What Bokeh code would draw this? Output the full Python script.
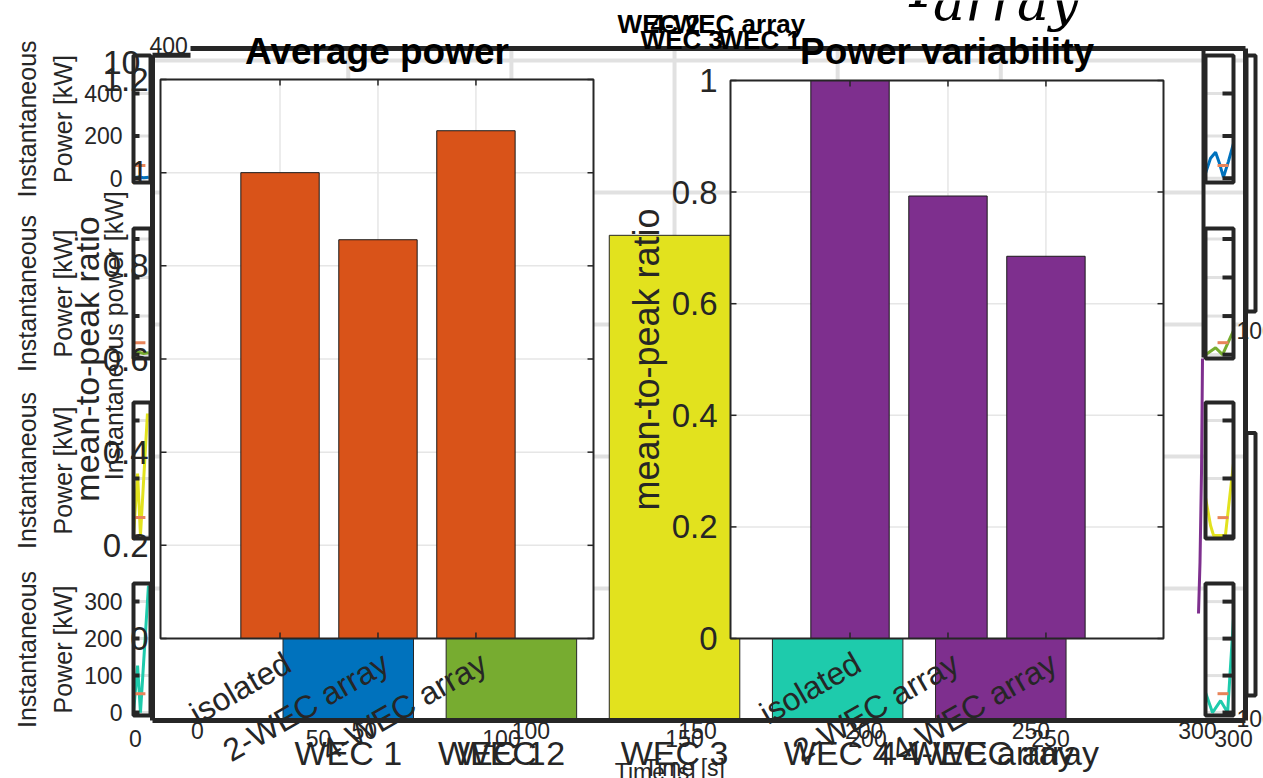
import numpy as np
from bokeh.plotting import figure
from bokeh.models import Range1d
from bokeh.core.properties import value
from bokeh.embed import file_html
from bokeh.resources import INLINE

# ---------------- data ----------------
avg_labels = ["isolated", "2-WEC array", "4-WEC array"]
avg_power = [1.0, 0.856, 1.09]
avg_ticks = [0, 0.2, 0.4, 0.6, 0.8, 1.0, 1.2]
avg_tick_labels = ["0", "0.2", "0.4", "0.6", "0.8", "1", "1.2"]

var_labels = ["isolated", "2-WEC array", "4-WEC array"]
mean_to_peak = [1.0, 0.793, 0.685]
var_ticks = [0, 0.2, 0.4, 0.6, 0.8, 1.0]
var_tick_labels = ["0", "0.2", "0.4", "0.6", "0.8", "1"]

wec_labels = ["WEC 1", "WEC 2", "WEC 3", "WEC 4", "4-WEC array"]
wec_ratio = [0.86, 0.83, 0.735, 0.80, 0.79]
wec_colors = ["#0072BD", "#77AC30", "#E2E21E", "#1ECBAC", "#7E2F8E"]
bg_ticks = [0.2, 0.4, 0.6, 0.8, 1.0]

time_ticks = [0, 50, 100, 150, 200, 250, 300]
time_tick_labels = ["0", "50", "100", "150", "200", "250", "300"]

# instantaneous power snippets (kW) in the small side panels
row_colors = ["#0072BD", "#77AC30", "#E2E21E", "#1ECBAC"]
row_ticks = [[0, 200, 400], [0, 100, 200, 300], [0, 200, 400], [0, 100, 200, 300]]
row_mean = [60, 31, 65, 51]

left_t = [[0, 3, 6, 9], [0, 3, 6, 9], [0, 2.4, 4.1, 8.2], [0, 2.4, 4.1, 8.8]]
left_p = [[3, 6, 2, 5], [4, 6, 3, 5], [0, 217, 3, 424], [0, 127, 0, 343]]

right_t = [[0, 1.8, 3.6, 5.0, 6.4, 8.2, 10], [0, 3.6, 6.1, 10],
           [0, 1.8, 2.9, 7.1, 10], [0, 2.5, 5.4, 7.9, 10]]
right_p = [[24, 95, 123, 70, 5, 80, 165], [0, 18, 0, 62],
           [134, 38, 3, 3, 252], [54, 0, 32, 0, 254]]

purple_t = [6.0, 5.0, 3.5, 2.0]
purple_p = [1.0, 0.55, 0.2, 0.0]

# ---------------- figure ----------------
FX0, FX1, FY0, FY1 = 0, 1263, 0, 778
p = figure(width=FX1 - FX0, height=FY1 - FY0,
           x_range=Range1d(FX0, FX1), y_range=Range1d(FY1, FY0),
           x_axis_location=None, y_axis_location=None,
           toolbar_location=None, output_backend="svg",
           min_border=0, outline_line_color=None)
p.grid.visible = False

FONT = value("Liberation Sans")
DARK = "#262626"
GRIDC = "#e1e1e1"

xr, yr = {}, {}


def panel(name, px, py, xlim, ylim):
    x0, x1 = px
    ytop, ybot = py
    sx = (xlim[1] - xlim[0]) / (x1 - x0)
    sy = (ylim[1] - ylim[0]) / (ybot - ytop)
    xr[name] = Range1d(xlim[0] - sx * (x0 - FX0), xlim[1] + sx * (FX1 - x1))
    yr[name] = Range1d(ylim[0] - sy * (FY1 - ybot), ylim[1] + sy * (ytop - FY0))
    return dict(x_range_name=name, y_range_name=name)


def txt(kw, x, y, text, size, color=DARK, style="normal", **extra):
    p.text(x=x, y=y, text=text, text_font=FONT, text_font_size=size,
           text_color=color, text_font_style=style, **kw, **extra)


# ---------- background bar chart ----------
BGX = (-0.2, 6.5)
BGY = (0, 1.018)
bg = panel("bg", (152, 1245), (48, 720), BGX, BGY)
bg_x = list(range(1, len(wec_labels) + 1))
p.segment(x0=[BGX[0]] * len(bg_ticks), x1=[BGX[1]] * len(bg_ticks), y0=bg_ticks, y1=bg_ticks,
          line_color=GRIDC, line_width=4, **bg)
p.segment(x0=bg_x, x1=bg_x, y0=[BGY[0]] * 5, y1=[BGY[1]] * 5, line_color=GRIDC, line_width=4, **bg)
p.vbar(x=bg_x, top=wec_ratio, bottom=0, width=0.8, fill_color=wec_colors,
       line_color=DARK, line_width=1, **bg)
# frame: left, bottom, right, top (top starts a little right of the left edge)
p.segment(x0=[BGX[0], BGX[0], BGX[1], 0.033], x1=[BGX[0], BGX[1], BGX[1], BGX[1]],
          y0=[BGY[0], BGY[0], BGY[0], BGY[1]], y1=[1.0076, BGY[0], BGY[1], BGY[1]],
          line_color=DARK, line_width=5, **bg)
p.segment(x0=[BGX[0]], x1=[0.033], y0=[1.0076], y1=[1.0076], line_color=DARK, line_width=5, **bg)
txt(bg, bg_x, [0] * 5, wec_labels, "34px", text_align="center", text_baseline="top", y_offset=13)
txt(bg, [1.88, 4.85], [0, 0], ["WEC 1", "4-WEC array"], "34px", text_align="center",
    text_baseline="top", y_offset=13)

# two overlapping time axes
axA = panel("axA", (135, 1233), (48, 720), (0, 300), BGY)
axB = panel("axB", (197, 1197), (48, 720), (0, 300), BGY)
txt(dict(x_range_name="axA", y_range_name="bg"), time_ticks, [0] * 7, time_tick_labels, "23px",
    text_align="center", text_baseline="middle", y_offset=18)
txt(dict(x_range_name="axB", y_range_name="bg"), time_ticks, [0] * 7, time_tick_labels, "23px",
    text_align="center", text_baseline="middle", y_offset=10)
txt(dict(x_range_name="axA", y_range_name="bg"), [150, 142], [0, 0], ["Time [s]", "Time [s]"], "23px",
    text_align="center", text_baseline="top", y_offset=[34, 38])

# ---------- side mini panels ----------
rows_py = [(55, 182), (228, 358), (402, 538), (583, 715)]
rows_ylim = [(-20, 580), (-10, 327), (-7, 462), (-8, 349)]
for i in range(4):
    for side, px in (("L", (133, 150)), ("R", (1205, 1233))):
        nm = f"m{side}{i}"
        kw = panel(nm, px, rows_py[i], (0, 10), rows_ylim[i])
        yl = rows_ylim[i]
        tk = row_ticks[i]
        p.quad(left=[0], right=[10], bottom=[yl[0]], top=[yl[1]], fill_color="white",
               line_color=None, **kw)
        p.segment(x0=[0] * len(tk), x1=[10] * len(tk), y0=tk, y1=tk, line_color=GRIDC,
                  line_width=3, **kw)
        if side == "L":
            p.line(left_t[i], left_p[i], line_color=row_colors[i], line_width=3, **kw)
            p.segment(x0=[0], x1=[7], y0=[row_mean[i]], y1=[row_mean[i]],
                      line_color="#E8845A", line_width=3, **kw)
            p.ray(x=[0] * len(tk), y=tk, length=6, length_units="screen", angle=0,
                  line_color=DARK, line_width=4, **kw)
            if i in (0, 3):
                txt(kw, [0] * len(tk), tk, [str(v) for v in tk], "23px",
                    text_align="right", text_baseline="middle", x_offset=-11)
        else:
            p.line(right_t[i], right_p[i], line_color=row_colors[i], line_width=3, **kw)
            p.segment(x0=[4.3], x1=[8.2], y0=[row_mean[i]], y1=[row_mean[i]],
                      line_color="#E8845A", line_width=3, **kw)
            p.ray(x=[10] * len(tk), y=tk, length=11, length_units="screen", angle=np.pi,
                  line_color=DARK, line_width=4, **kw)
        p.quad(left=[0], right=[10], bottom=[yl[0]], top=[yl[1]], fill_color=None,
               line_color=DARK, line_width=4, **kw)
        mid = (yl[0] + yl[1]) / 2
        if side == "L":
            txt(kw, [0, 0], [mid, mid], ["Instantaneous", "Power [kW]"], "25px",
                text_align="center", text_baseline="middle", angle=np.pi / 2,
                x_offset=[-107, -71])

# right column frame and tall purple trace
rc = panel("rc", (1203, 1245), (48, 720), (0, 10), (0, 1))
p.segment(x0=[0], x1=[0], y0=[0.54], y1=[1], line_color=DARK, line_width=4, **rc)
txt(rc, [10, 10], [0.58, 0.0], ["100", "100"], "23px", text_align="left", text_baseline="middle",
    x_offset=-9, y_offset=[0, -2])
pur = panel("pur", (1196, 1206), (358, 613), (0, 10), (0, 1))
p.line(purple_t, purple_p, line_color="#7E2F8E", line_width=3, **pur)
tc = panel("tc", (1246, 1255), (55, 695), (0, 10), (0, 1))
p.quad(left=[0, 0], right=[10, 10], bottom=[0.6, 0], top=[1, 0.41], fill_color="white",
       line_color=DARK, line_width=4, **tc)

# ---------- main panel: Average power ----------
CX = (-0.22, 4.2)
cat_x = [1, 2, 3]
L = panel("L", (160, 593), (79, 638), CX, (0, 1.2))
p.quad(left=[CX[0]], right=[CX[1]], bottom=[0], top=[1.2], fill_color="white", line_color=None, **L)
p.segment(x0=[CX[0]] * 6, x1=[CX[1]] * 6, y0=avg_ticks[1:], y1=avg_ticks[1:],
          line_color="#e6e6e6", line_width=1.5, **L)
p.segment(x0=cat_x, x1=cat_x, y0=[0] * 3, y1=[1.2] * 3, line_color="#e6e6e6", line_width=1.5, **L)
p.vbar(x=cat_x, top=avg_power, bottom=0, width=0.8, fill_color="#D95319",
       line_color="#1a1a1a", line_width=1, **L)
p.quad(left=[CX[0]], right=[CX[1]], bottom=[0], top=[1.2], fill_color=None,
       line_color=DARK, line_width=2, **L)
p.ray(x=[CX[0]] * 7, y=avg_ticks, length=6, length_units="screen", angle=0, line_color=DARK, line_width=1.5, **L)
p.ray(x=[CX[1]] * 7, y=avg_ticks, length=6, length_units="screen", angle=np.pi, line_color=DARK, line_width=1.5, **L)
p.ray(x=cat_x, y=[0] * 3, length=6, length_units="screen", angle=np.pi / 2, line_color=DARK, line_width=1.5, **L)
p.ray(x=cat_x, y=[1.2] * 3, length=6, length_units="screen", angle=-np.pi / 2, line_color=DARK, line_width=1.5, **L)
txt(L, [CX[0]] * 7, avg_ticks, avg_tick_labels, "33px", text_align="right",
    text_baseline="middle", x_offset=-12)
txt(L, cat_x, [0] * 3, avg_labels, "32px", text_align="right", text_baseline="middle",
    angle=np.pi / 6, x_offset=8, y_offset=22)
txt(L, [(CX[0] + CX[1]) / 2], [1.2], ["Average power"], "37px", color="#000000", style="bold",
    text_align="center", text_baseline="middle", y_offset=-28)

# ---------- main panel: Power variability ----------
R = panel("R", (730, 1163), (80, 638), CX, (0, 1.0))
p.quad(left=[CX[0]], right=[CX[1]], bottom=[0], top=[1.0], fill_color="white", line_color=None, **R)
p.segment(x0=[CX[0]] * 5, x1=[CX[1]] * 5, y0=var_ticks[1:], y1=var_ticks[1:],
          line_color="#e6e6e6", line_width=1.5, **R)
p.segment(x0=cat_x, x1=cat_x, y0=[0] * 3, y1=[1.0] * 3, line_color="#e6e6e6", line_width=1.5, **R)
p.vbar(x=cat_x, top=mean_to_peak, bottom=0, width=0.8, fill_color="#7E2F8E",
       line_color="#1a1a1a", line_width=1, **R)
p.quad(left=[CX[0]], right=[CX[1]], bottom=[0], top=[1.0], fill_color=None,
       line_color=DARK, line_width=2, **R)
p.ray(x=[CX[0]] * 6, y=var_ticks, length=6, length_units="screen", angle=0, line_color=DARK, line_width=1.5, **R)
p.ray(x=[CX[1]] * 6, y=var_ticks, length=6, length_units="screen", angle=np.pi, line_color=DARK, line_width=1.5, **R)
p.ray(x=cat_x, y=[0] * 3, length=6, length_units="screen", angle=np.pi / 2, line_color=DARK, line_width=1.5, **R)
p.ray(x=cat_x, y=[1.0] * 3, length=6, length_units="screen", angle=-np.pi / 2, line_color=DARK, line_width=1.5, **R)
txt(R, [CX[0]] * 6, var_ticks, var_tick_labels, "33px", text_align="right",
    text_baseline="middle", x_offset=-13)
txt(R, cat_x, [0] * 3, var_labels, "32px", text_align="right", text_baseline="middle",
    angle=np.pi / 6, x_offset=8, y_offset=22)
txt(R, [CX[0]], [0.5], ["mean-to-peak ratio"], "36px", text_align="center",
    text_baseline="middle", angle=np.pi / 2, x_offset=-84)
txt(R, [(CX[0] + CX[1]) / 2], [1.0], ["Power variability"], "37px", color="#000000", style="bold",
    text_align="center", text_baseline="middle", y_offset=-29)

# ---------- overlapping stray labels (left column and top) ----------
txt(L, [CX[0]], [0.6], ["mean-to-peak ratio"], "34px", text_align="center",
    text_baseline="middle", angle=np.pi / 2, x_offset=-74)
txt(L, [CX[0]], [0.65], ["Instantaneous power [kW]"], "25px", text_align="center",
    text_baseline="middle", angle=np.pi / 2, x_offset=-47)
txt(L, [CX[0]], [1.2], ["10"], "34px", text_align="right", text_baseline="middle",
    x_offset=-20, y_offset=-17)
txt(L, [CX[0]], [1.2], ["400"], "23px", text_align="left", text_baseline="middle",
    x_offset=-11, y_offset=-34)
# stacked bold titles of the hidden panels
txt(bg, [2.651, 2.853], [BGY[1]] * 2, ["WEC 2", "4-WEC array"], "26px", color="#000000", style="bold",
    text_align="left", text_baseline="middle", y_offset=-25)
txt(bg, [2.792, 3.27], [BGY[1]] * 2, ["WEC 3", "WEC 1"], "26px", color="#000000", style="bold",
    text_align="left", text_baseline="middle", y_offset=-9)
p.text(x=[4.44], y=[BGY[1]], text=["P"], text_font=value("DejaVu Serif"), text_font_style="italic",
       text_font_size="58px", text_color="#000000", text_baseline="middle", y_offset=-62,
       text_align="left", **bg)
p.text(x=[4.585], y=[BGY[1]], text=["array"], text_font=value("DejaVu Serif"), text_font_style="italic",
       text_font_size="54px", text_color="#000000", text_baseline="middle", y_offset=-47,
       text_align="left", **bg)

p.extra_x_ranges = xr
p.extra_y_ranges = yr

open("out.html", "w").write(file_html(p, INLINE))
